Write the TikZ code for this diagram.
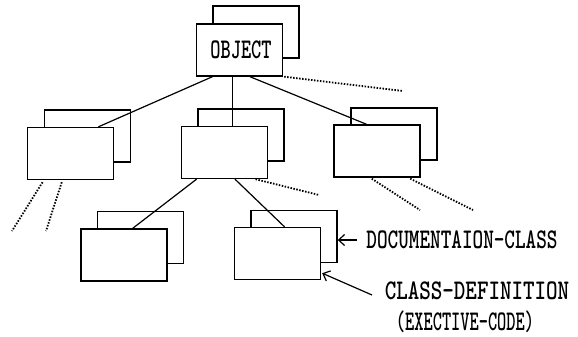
\documentclass[tikz,border=0pt]{standalone}
\usepackage{graphicx}
\usepackage{fontspec}
\usetikzlibrary{arrows.meta,calc}
\begin{document}
\begin{tikzpicture}[x=1pt,y=-1pt,
  card/.style={draw, fill=white, line width=1.4pt, minimum width=86pt, minimum height=52pt, inner sep=0pt},
  link/.style={line width=1.2pt},
  dots/.style={line width=1.8pt, dash pattern=on 1.5pt off 1.5pt},
  lblf/.style={font=\ttfamily\bfseries\fontsize{28.5}{28.5}\selectfont},
  lbl/.style={inner sep=0pt, lblf},
  pointer/.style={line width=1.2pt, -{Straight Barb[length=6pt,width=11pt]}}]
\useasboundingbox (0,0) rectangle (578,337);
% back cards
\node[card] (objb) at (256,32) {};
\node[card] (lb) at (87.5,136) {};
\node[card] (mb) at (241,135) {};
\node[card] (rb) at (394,134) {};
\node[card] (blb) at (140.5,237.5) {};
\node[card] (brb) at (294,236.5) {};
% front cards
\node[card, lblf] (obj) at (239.5,50) {\raisebox{-1pt}{\hspace*{3pt}\scalebox{0.68}[1]{OBJECT}}};
\node[card] (l) at (70.5,153.5) {};
\node[card] (m) at (224.5,152.5) {};
\node[card] (r) at (377,151) {};
\node[card] (bl) at (124,255) {};
\node[card] (br) at (277.5,253.5) {};
% connectors
\draw[link] ($(obj.south west)!0.19!(obj.south east)$) -- ($(l.north west)!0.82!(l.north east)$);
\coordinate (mtop) at ($(m.north west)!0.59!(m.north east)$);
\draw[link] (obj.south -| mtop) -- (mtop);
\draw[link] ($(obj.south west)!0.62!(obj.south east)$) -- ($(r.north west)!0.38!(r.north east)$);
\draw[link] ($(m.south west)!0.18!(m.south east)$) -- ($(bl.north west)!0.6!(bl.north east)$);
\draw[link] ($(m.south west)!0.62!(m.south east)$) -- ($(br.north west)!0.58!(br.north east)$);
% dotted continuations
\coordinate (d0) at (403,91);
\coordinate (d1) at (12,231);
\coordinate (d2) at (46,231);
\coordinate (d3) at (319,195);
\coordinate (d4) at (420,210);
\coordinate (d5) at (473,210);
\draw[dots] ([xshift=1pt]obj.south east) -- (d0);
\draw[dots] ($(l.south west)!0.18!(l.south east)+(0,2)$) -- (d1);
\draw[dots] ($(l.south west)!0.4!(l.south east)+(0,2)$) -- (d2);
\draw[dots] ($(m.south west)!0.855!(m.south east)$) -- (d3);
\draw[dots] ($(r.south west)!0.44!(r.south east)+(0,1)$) -- (d4);
\draw[dots] ($(r.south west)!0.88!(r.south east)+(0,1)$) -- (d5);
% labels
\node[lbl] (doc) at (462,240) {\scalebox{0.71}[1]{DOCUMENTAION-CLASS}};
\node[lbl] (cd) at (477,291) {\scalebox{0.77}[1]{CLASS-DEFINITION}};
\node[lbl] (ec) at (465,322) {\scalebox{0.615}[1]{(EXECTIVE-CODE)}};
% pointers
\draw[pointer] ([xshift=-9pt]doc.west) -- (doc.west -| brb.east);
\coordinate (cdtail) at (372,295);
\draw[pointer] (cdtail) -- ($(br.south east)+(1,-7)$);
\end{tikzpicture}
\end{document}
